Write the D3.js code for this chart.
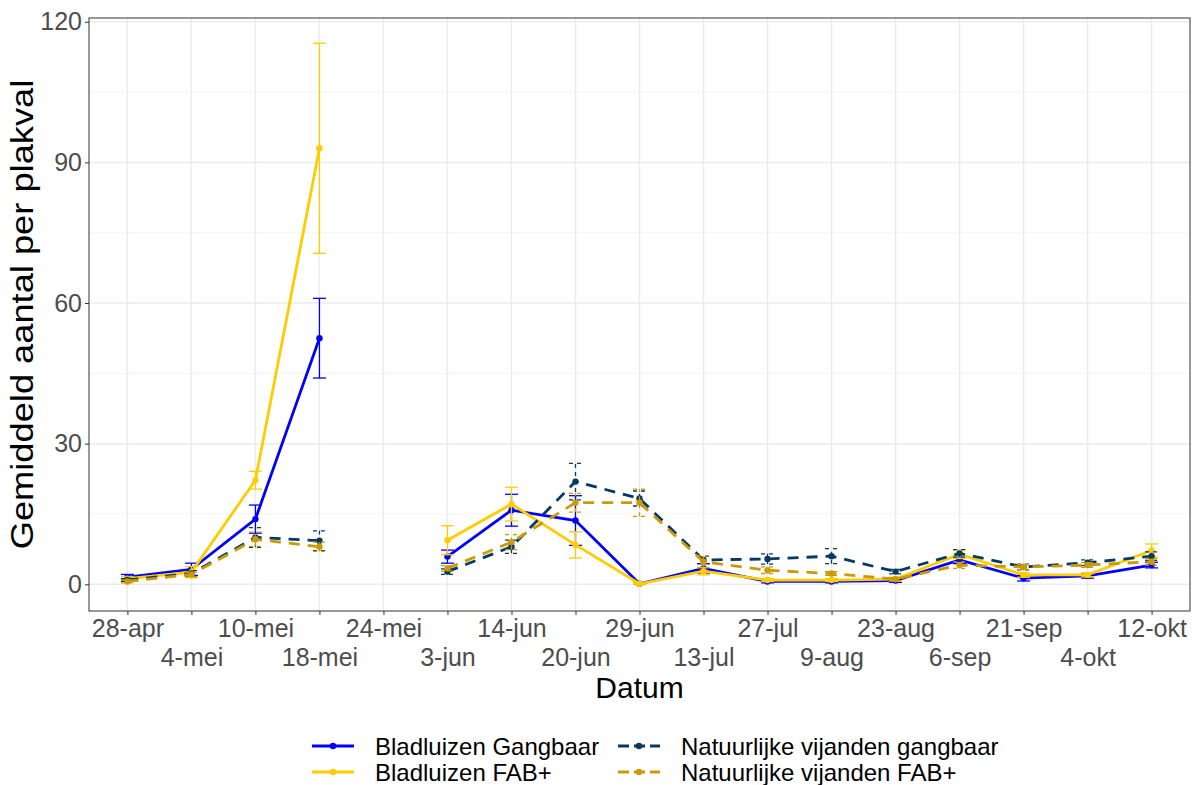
<!DOCTYPE html>
<html>
<head>
<meta charset="utf-8">
<script src="https://cdn.jsdelivr.net/npm/d3@7"></script>
<style>
  body { margin: 0; background: #fff; }
  svg { display: block; font-family: "Liberation Sans", Arial, sans-serif; }
</style>
</head>
<body>
<svg width="1194" height="785"></svg>
<script>
// datums op de x-as (discreet)
var datums = ["28-apr", "4-mei", "10-mei", "18-mei", "24-mei", "3-jun", "14-jun", "20-jun", "29-jun",
  "13-jul", "27-jul", "9-aug", "23-aug", "6-sep", "21-sep", "4-okt", "12-okt"];

// gemiddelden en standaardfouten per reeks (null = geen meting)
var bladGangbaar = [1.5, 3.2, 13.9, 52.5, null, 5.9, 15.8, 13.6, 0.1, 3.4, 0.6, 0.6, 0.8, 5.2, 1.3, 1.8, 4.1];
var bladGangbaarSe = [0.6, 1.3, 3.0, 8.5, null, 1.4, 3.4, 5.3, 0.1, 1.0, 0.3, 0.3, 0.4, 0.8, 0.6, 0.5, 0.6];
var bladFab = [1.2, 2.6, 22.2, 93.0, null, 9.4, 17.1, 8.4, 0.1, 2.8, 0.9, 0.9, 1.1, 6.4, 2.0, 2.0, 7.2];
var bladFabSe = [0.4, 1.2, 1.9, 22.4, null, 3.1, 3.6, 2.8, 0.1, 0.8, 0.3, 0.3, 0.4, 0.9, 0.5, 0.4, 1.4];
var vijGangbaar = [0.9, 2.3, 10.0, 9.3, null, 2.7, 8.0, 21.9, 18.3, 5.2, 5.4, 6.0, 2.7, 6.6, 3.7, 4.6, 6.0];
var vijGangbaarSe = [0.3, 0.6, 2.1, 2.1, null, 0.6, 1.4, 3.9, 1.6, 0.8, 1.1, 1.6, 0.5, 0.8, 0.6, 0.6, 0.9];
var vijFab = [0.6, 2.1, 9.6, 8.0, null, 3.4, 9.0, 17.4, 17.4, 4.8, 3.0, 2.3, 1.1, 4.1, 3.7, 4.1, 4.8];
var vijFabSe = [0.3, 0.5, 1.5, 1.0, null, 0.6, 1.6, 2.0, 2.9, 1.3, 0.7, 0.4, 0.3, 0.7, 0.5, 0.5, 0.7];

var yTicks = [0, 30, 60, 90, 120];
var yMinor = [15, 45, 75, 105];

var reeksen = [
  {naam: "Bladluizen Gangbaar", waarden: bladGangbaar, se: bladGangbaarSe, kleur: "#0000FF", dash: null},
  {naam: "Bladluizen FAB+", waarden: bladFab, se: bladFabSe, kleur: "#FFCC00", dash: null},
  {naam: "Natuurlijke vijanden gangbaar", waarden: vijGangbaar, se: vijGangbaarSe, kleur: "#063A64", dash: "11,8"},
  {naam: "Natuurlijke vijanden FAB+", waarden: vijFab, se: vijFabSe, kleur: "#CC9A06", dash: "11,8"}
];

var svg = d3.select("svg"),
  panel = {left: 89, right: 1190, top: 18, bottom: 611};

var x = d3.scalePoint().domain(datums).range([panel.left, panel.right]).padding(0.6),
  y = d3.scaleLinear().domain([-5.7, 120.8]).range([panel.bottom, panel.top]);

// rasterlijnen
var grid = svg.append("g");
grid.selectAll(".minor").data(yMinor).enter().append("line")
  .attr("x1", panel.left).attr("x2", panel.right)
  .attr("y1", function(d) { return y(d); }).attr("y2", function(d) { return y(d); })
  .attr("stroke", "#F0F0F0").attr("stroke-width", 0.8);
grid.selectAll(".major").data(yTicks).enter().append("line")
  .attr("x1", panel.left).attr("x2", panel.right)
  .attr("y1", function(d) { return y(d); }).attr("y2", function(d) { return y(d); })
  .attr("stroke", "#EBEBEB").attr("stroke-width", 1.5);
grid.selectAll(".vert").data(datums).enter().append("line")
  .attr("x1", function(d) { return x(d); }).attr("x2", function(d) { return x(d); })
  .attr("y1", panel.top).attr("y2", panel.bottom)
  .attr("stroke", "#EBEBEB").attr("stroke-width", 1.5);

// data per reeks: lijnen, foutbalken, punten
var line = d3.line()
  .defined(function(d) { return d.v != null; })
  .x(function(d) { return x(d.datum); })
  .y(function(d) { return y(d.v); });

reeksen.forEach(function(r) {
  var pts = datums.map(function(d, i) { return {datum: d, v: r.waarden[i], se: r.se[i]}; });
  var g = svg.append("g");

  g.append("path")
    .datum(pts)
    .attr("d", line)
    .attr("fill", "none")
    .attr("stroke", r.kleur)
    .attr("stroke-width", 2.8)
    .attr("stroke-dasharray", r.dash);

  var bars = pts.filter(function(d) { return d.v != null; });
  var eb = g.selectAll(".eb").data(bars).enter().append("g")
    .attr("stroke", r.kleur)
    .attr("stroke-width", 1.3)
    .attr("stroke-dasharray", r.dash ? "4,4" : null)
    .attr("fill", "none");
  eb.append("line")
    .attr("x1", function(d) { return x(d.datum); }).attr("x2", function(d) { return x(d.datum); })
    .attr("y1", function(d) { return y(d.v - d.se); }).attr("y2", function(d) { return y(d.v + d.se); });
  eb.append("line")
    .attr("x1", function(d) { return x(d.datum) - 6.5; }).attr("x2", function(d) { return x(d.datum) + 6.5; })
    .attr("y1", function(d) { return y(d.v + d.se); }).attr("y2", function(d) { return y(d.v + d.se); });
  eb.append("line")
    .attr("x1", function(d) { return x(d.datum) - 6.5; }).attr("x2", function(d) { return x(d.datum) + 6.5; })
    .attr("y1", function(d) { return y(d.v - d.se); }).attr("y2", function(d) { return y(d.v - d.se); });

  g.selectAll("circle").data(bars).enter().append("circle")
    .attr("cx", function(d) { return x(d.datum); })
    .attr("cy", function(d) { return y(d.v); })
    .attr("r", 3.2)
    .attr("fill", r.kleur);
});

// kader rond panel
svg.append("rect")
  .attr("x", panel.left).attr("y", panel.top)
  .attr("width", panel.right - panel.left).attr("height", panel.bottom - panel.top)
  .attr("fill", "none").attr("stroke", "#333").attr("stroke-width", 1);

// assen
var yAxis = svg.append("g")
  .attr("transform", "translate(" + panel.left + ",0)")
  .call(d3.axisLeft(y).tickValues(yTicks).tickSize(4).tickPadding(3));
yAxis.select(".domain").remove();

var xAxis = svg.append("g")
  .attr("transform", "translate(0," + panel.bottom + ")")
  .call(d3.axisBottom(x).tickSize(4).tickPadding(4));
xAxis.select(".domain").remove();
xAxis.selectAll("text")
  .attr("y", function(d, i) { return i % 2 === 0 ? 8 : 37; })
  .attr("dy", "0.71em");

svg.selectAll(".tick line").attr("stroke", "#333");
svg.selectAll(".tick text")
  .style("font-size", "25px")
  .attr("fill", "#4D4D4D");

svg.append("text")
  .attr("x", (panel.left + panel.right) / 2)
  .attr("y", 698)
  .attr("text-anchor", "middle")
  .style("font-size", "30px")
  .text("Datum");

// y-titel is in het origineel uitgerekt
svg.append("text")
  .attr("transform", "translate(33," + (panel.top + panel.bottom) / 2 + ") rotate(-90) scale(1.17,1)")
  .attr("text-anchor", "middle")
  .style("font-size", "31px")
  .text("Gemiddeld aantal per plakval");

// legenda, 2 kolommen
var legX = [312, 618],
  legY = [746, 772];

var leg = svg.selectAll(".leg").data(reeksen).enter().append("g")
  .attr("transform", function(d, i) { return "translate(" + legX[Math.floor(i / 2)] + "," + legY[i % 2] + ")"; });
leg.append("line")
  .attr("x1", 0).attr("x2", 42)
  .attr("stroke", function(d) { return d.kleur; })
  .attr("stroke-width", 2.8)
  .attr("stroke-dasharray", function(d) { return d.dash ? "11,5" : null; });
leg.append("circle")
  .attr("cx", 21).attr("r", 3.2)
  .attr("fill", function(d) { return d.kleur; });
leg.append("text")
  .attr("x", 63)
  .attr("dy", "0.36em")
  .style("font-size", "24px")
  .text(function(d) { return d.naam; });
</script>
</body>
</html>
